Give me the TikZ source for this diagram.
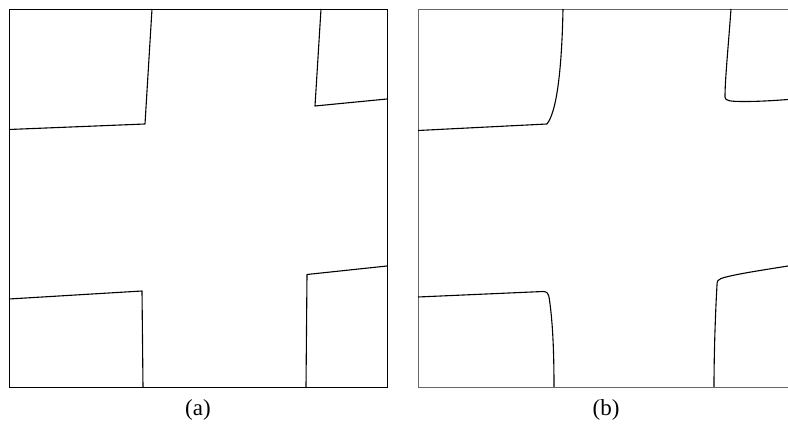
\documentclass[tikz,border=0pt]{standalone}
\usepackage{fontspec}
\setmainfont{Liberation Serif}
\begin{document}
\begin{tikzpicture}[x=1pt,y=-1pt,
  frameA/.style={draw=black,line width=0.95pt},
  frameB/.style={draw=black!60,line width=0.8pt},
  crv/.style={draw=black,line width=1.1pt,line join=round},
  lbl/.style={font=\fontsize{23}{27}\selectfont,inner sep=0pt}]
\useasboundingbox (0,0) rectangle (788,427);
% panel (a)
\draw[frameA] (9,9) rectangle (387,387);
\draw[crv] (152,9) -- (145,124) -- (9,129.5);
\draw[crv] (321,9) -- (315,106) -- (387,99);
\draw[crv] (9,299) -- (142,291) -- (143,387);
\draw[crv] (387,266) -- (307,274.5) -- (306,387);
% panel (b)
\draw[frameB] (788,9) -- (418,9) -- (418,387) -- (788,387);
\draw[crv] (563,9) .. controls (562,60) and (558,110) .. (547,124) -- (418,130.5);
\draw[crv] (731,9) .. controls (728,50) and (725,80) .. (725,97)
  .. controls (725,101) and (730,101.5) .. (745,101.5)
  .. controls (760,101.5) and (775,100.5) .. (788,99.5);
\draw[crv] (418,297) -- (543,291.5) .. controls (547,291.5) and (548.5,293) .. (549.5,300)
  .. controls (553,325) and (554,355) .. (554,387);
\draw[crv] (788,266) .. controls (760,270.5) and (733,274.5) .. (721,278.5)
  .. controls (718,279.5) and (717,281) .. (717,285)
  .. controls (715,320) and (714,360) .. (714,387);
% labels
\node[lbl] (la) at (198,410) {(a)};
\node[lbl] (lb) at (606,410) {(b)};
\end{tikzpicture}
\end{document}
